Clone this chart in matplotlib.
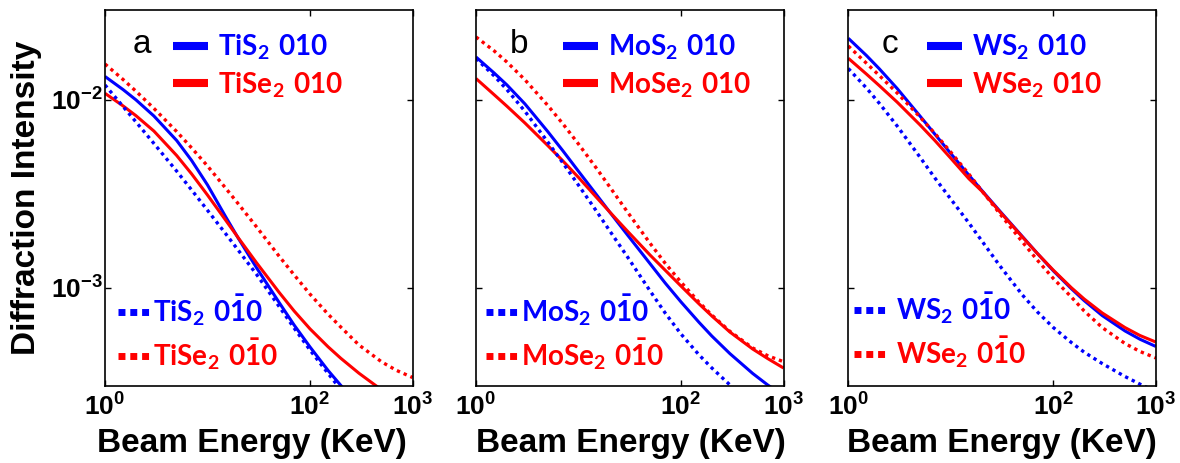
import matplotlib
matplotlib.use('Agg')
import matplotlib.pyplot as plt
from matplotlib.lines import Line2D
from matplotlib.ticker import FixedLocator, FixedFormatter, NullLocator

plt.rcParams['font.family'] = ['Liberation Sans', 'DejaVu Sans']
plt.rcParams['mathtext.fontset'] = 'custom'
plt.rcParams['mathtext.rm'] = 'Liberation Sans'
plt.rcParams['mathtext.bf'] = 'Liberation Sans:bold'
plt.rcParams['mathtext.sf'] = 'Lato:bold'

# ---------------- data ----------------
energy = [1, 1.5, 2, 3, 5, 7, 10, 15, 20, 30, 50, 70, 100, 150, 200, 300, 500, 700, 1000]  # KeV

# panel a
tis2_010 = [0.01329, 0.01132, 0.00999, 0.00819, 0.00607, 0.00475, 0.00352, 0.00239, 0.00183, 0.00128,
            0.000834, 0.000633, 0.000484, 0.000363, 0.000302, 0.000237, 0.000179, 0.000151, 0.000129]
tise2_010 = [0.01081, 0.00927, 0.00823, 0.00681, 0.00505, 0.00403, 0.00311, 0.00229, 0.00184, 0.00136,
             0.000944, 0.000752, 0.000604, 0.000485, 0.000421, 0.000351, 0.000286, 0.000254, 0.000226]
tis2_0m10 = [0.01197, 0.00920, 0.00763, 0.00585, 0.00417, 0.00331, 0.00258, 0.00194, 0.00158, 0.00118,
             0.000794, 0.000610, 0.000466, 0.000350, 0.000287, 0.000222, 0.000165, 0.000137, 0.000114]
tise2_0m10 = [0.01548, 0.01281, 0.01111, 0.00899, 0.00677, 0.00554, 0.00444, 0.00339, 0.00279, 0.00211,
              0.00147, 0.00117, 0.000924, 0.000723, 0.000617, 0.000496, 0.000403, 0.000363, 0.000333]

# panel b
mos2_010 = [0.01687, 0.01388, 0.01199, 0.00950, 0.00678, 0.00537, 0.00416, 0.00312, 0.00254, 0.00191,
            0.00134, 0.00106, 0.000840, 0.000654, 0.000553, 0.000446, 0.000350, 0.000304, 0.000266]
mose2_010 = [0.01296, 0.01064, 0.00924, 0.00752, 0.00571, 0.00474, 0.00386, 0.00302, 0.00254, 0.00200,
             0.00149, 0.00124, 0.00102, 0.000820, 0.000707, 0.000581, 0.000472, 0.000420, 0.000374]
mos2_0m10 = [0.01656, 0.01341, 0.01132, 0.00868, 0.00597, 0.00463, 0.00351, 0.00255, 0.00202, 0.00146,
             0.000960, 0.000734, 0.000567, 0.000439, 0.000374, 0.000304, 0.000238, 0.000203, 0.000173]
mose2_0m10 = [0.02156, 0.01820, 0.01587, 0.01277, 0.00934, 0.00747, 0.00581, 0.00431, 0.00346, 0.00253,
              0.00172, 0.00135, 0.00107, 0.000837, 0.000715, 0.000586, 0.000478, 0.000435, 0.000404]

# panel c
ws2_010 = [0.02122, 0.01720, 0.01463, 0.01146, 0.00819, 0.00655, 0.00517, 0.00397, 0.00330, 0.00256,
           0.00187, 0.00152, 0.00123, 0.000988, 0.000854, 0.000711, 0.000589, 0.000532, 0.000487]
wse2_010 = [0.01661, 0.01370, 0.01190, 0.00970, 0.00735, 0.00606, 0.00488, 0.00380, 0.00327, 0.00254,
            0.00186, 0.00152, 0.00124, 0.00100, 0.000871, 0.000734, 0.000614, 0.000557, 0.000514]
ws2_0m10 = [0.01465, 0.01155, 0.00959, 0.00724, 0.00495, 0.00383, 0.00296, 0.00221, 0.00178, 0.00131,
            0.000914, 0.000743, 0.000614, 0.000511, 0.000454, 0.000395, 0.000337, 0.000307, 0.000280]
wse2_0m10 = [0.01930, 0.01565, 0.01347, 0.01085, 0.00809, 0.00661, 0.00526, 0.00402, 0.00329, 0.00248,
             0.00175, 0.00140, 0.00112, 0.000892, 0.000752, 0.000614, 0.000505, 0.000458, 0.000423]

panel_letters = ['a', 'b', 'c']
s_names = ['TiS', 'MoS', 'WS']
se_names = ['TiSe', 'MoSe', 'WSe']
x_tick_vals = [1, 100, 1000]
x_tick_labels = [r'$\mathbf{10^{0}}$', r'$\mathbf{10^{2}}$', r'$\mathbf{10^{3}}$']
y_tick_vals = [1e-3, 1e-2]
y_tick_labels = [r'$\mathbf{10^{-3}}$', r'$\mathbf{10^{-2}}$']

panels = [
    (tis2_010, tise2_010, tis2_0m10, tise2_0m10),
    (mos2_010, mose2_010, mos2_0m10, mose2_0m10),
    (ws2_010, wse2_010, ws2_0m10, wse2_0m10),
]

# ---------------- layout ----------------
W, H = 1180, 463
fig = plt.figure(figsize=(W / 100, H / 100), dpi=100)
lefts = [105, 476, 848.3]
ax_w = 307.5
ax_top, ax_bot = 10, 386
BLUE = '#0000FF'
RED = '#FF0000'
dot_dashes = (1, 1.2)

top_leg_x = [173, 563, 927]
bot_leg_x = [118, 486, 854]
bot_leg_y = [332.5, 332.5, 330]
bot_pad = [0.1, 0.1, 0.36]
xlabel_x = [252, 631, 1002]
letter_x = [133, 510, 882]

for i, ax_left in enumerate(lefts):
    ax = fig.add_axes([ax_left / W, 1 - ax_bot / H, ax_w / W, (ax_bot - ax_top) / H])
    s010, se010, s0m10, se0m10 = panels[i]
    ax.plot(energy, s010, color=BLUE, lw=2.2, solid_capstyle='butt', solid_joinstyle='round')
    ax.plot(energy, se010, color=RED, lw=2.2, solid_capstyle='butt', solid_joinstyle='round')
    ax.plot(energy, s0m10, color=BLUE, lw=2.4, dashes=dot_dashes)
    ax.plot(energy, se0m10, color=RED, lw=2.4, dashes=dot_dashes)
    ax.set_xscale('log')
    ax.set_yscale('log')
    ax.set_xlim(1, 1000)
    ax.set_ylim(3.0e-4, 3.0e-2)
    ax.xaxis.set_major_locator(FixedLocator(x_tick_vals))
    ax.xaxis.set_major_formatter(FixedFormatter(x_tick_labels))
    ax.xaxis.set_minor_locator(NullLocator())
    ax.yaxis.set_major_locator(FixedLocator(y_tick_vals))
    ax.yaxis.set_minor_locator(NullLocator())
    if i == 0:
        ax.yaxis.set_major_formatter(FixedFormatter(y_tick_labels))
    else:
        ax.yaxis.set_major_formatter(FixedFormatter(['', '']))
    ax.tick_params(axis='both', which='major', direction='in', length=4, width=1,
                   top=True, right=True, labelsize=19)
    ax.tick_params(axis='x', pad=5)
    ax.tick_params(axis='y', pad=1.5)
    for sp in ax.spines.values():
        sp.set_linewidth(1.2)

    # panel letter
    ax.text((letter_x[i] - ax_left) / ax_w, (ax_bot - 53) / (ax_bot - ax_top), panel_letters[i],
            transform=ax.transAxes, fontsize=24, ha='left', va='baseline')

    # top legend (solid)
    h_top = [Line2D([], [], color=BLUE, lw=5.8, solid_capstyle='butt'),
             Line2D([], [], color=RED, lw=5.8, solid_capstyle='butt')]
    l_top = [r'$\mathsf{%s_2\ 010}$' % s_names[i], r'$\mathsf{%s_2\ 010}$' % se_names[i]]
    leg1 = ax.legend(h_top, l_top, loc='center left',
                     bbox_to_anchor=((top_leg_x[i] - ax_left) / ax_w, (ax_bot - 66) / (ax_bot - ax_top)),
                     frameon=False, borderpad=0, borderaxespad=0, fontsize=20,
                     handlelength=1.26, handletextpad=0.36, labelspacing=0.3,
                     labelcolor=[BLUE, RED])
    ax.add_artist(leg1)

    # bottom legend (dotted)
    h_bot = [Line2D([], [], color=BLUE, lw=5.0, dashes=(1, 0.7)),
             Line2D([], [], color=RED, lw=5.0, dashes=(1, 0.7))]
    l_bot = [r'$\mathsf{%s_2\ 0\bar{1}0}$' % s_names[i], r'$\mathsf{%s_2\ 0\bar{1}0}$' % se_names[i]]
    ax.legend(h_bot, l_bot, loc='center left',
              bbox_to_anchor=((bot_leg_x[i] - ax_left) / ax_w, (ax_bot - bot_leg_y[i]) / (ax_bot - ax_top)),
              frameon=False, borderpad=0, borderaxespad=0, fontsize=20,
              handlelength=1.15, handletextpad=bot_pad[i], labelspacing=0.3,
              labelcolor=[BLUE, RED])

    fig.text(xlabel_x[i] / W, 1 - 452 / H, 'Beam Energy (KeV)', fontsize=24, fontweight='bold',
             ha='center', va='baseline')

fig.text(26.5 / W, 1 - 198 / H, 'Diffraction Intensity', fontsize=24, fontweight='bold',
         rotation=90, ha='center', va='center')

fig.savefig('out.png', dpi=100)
